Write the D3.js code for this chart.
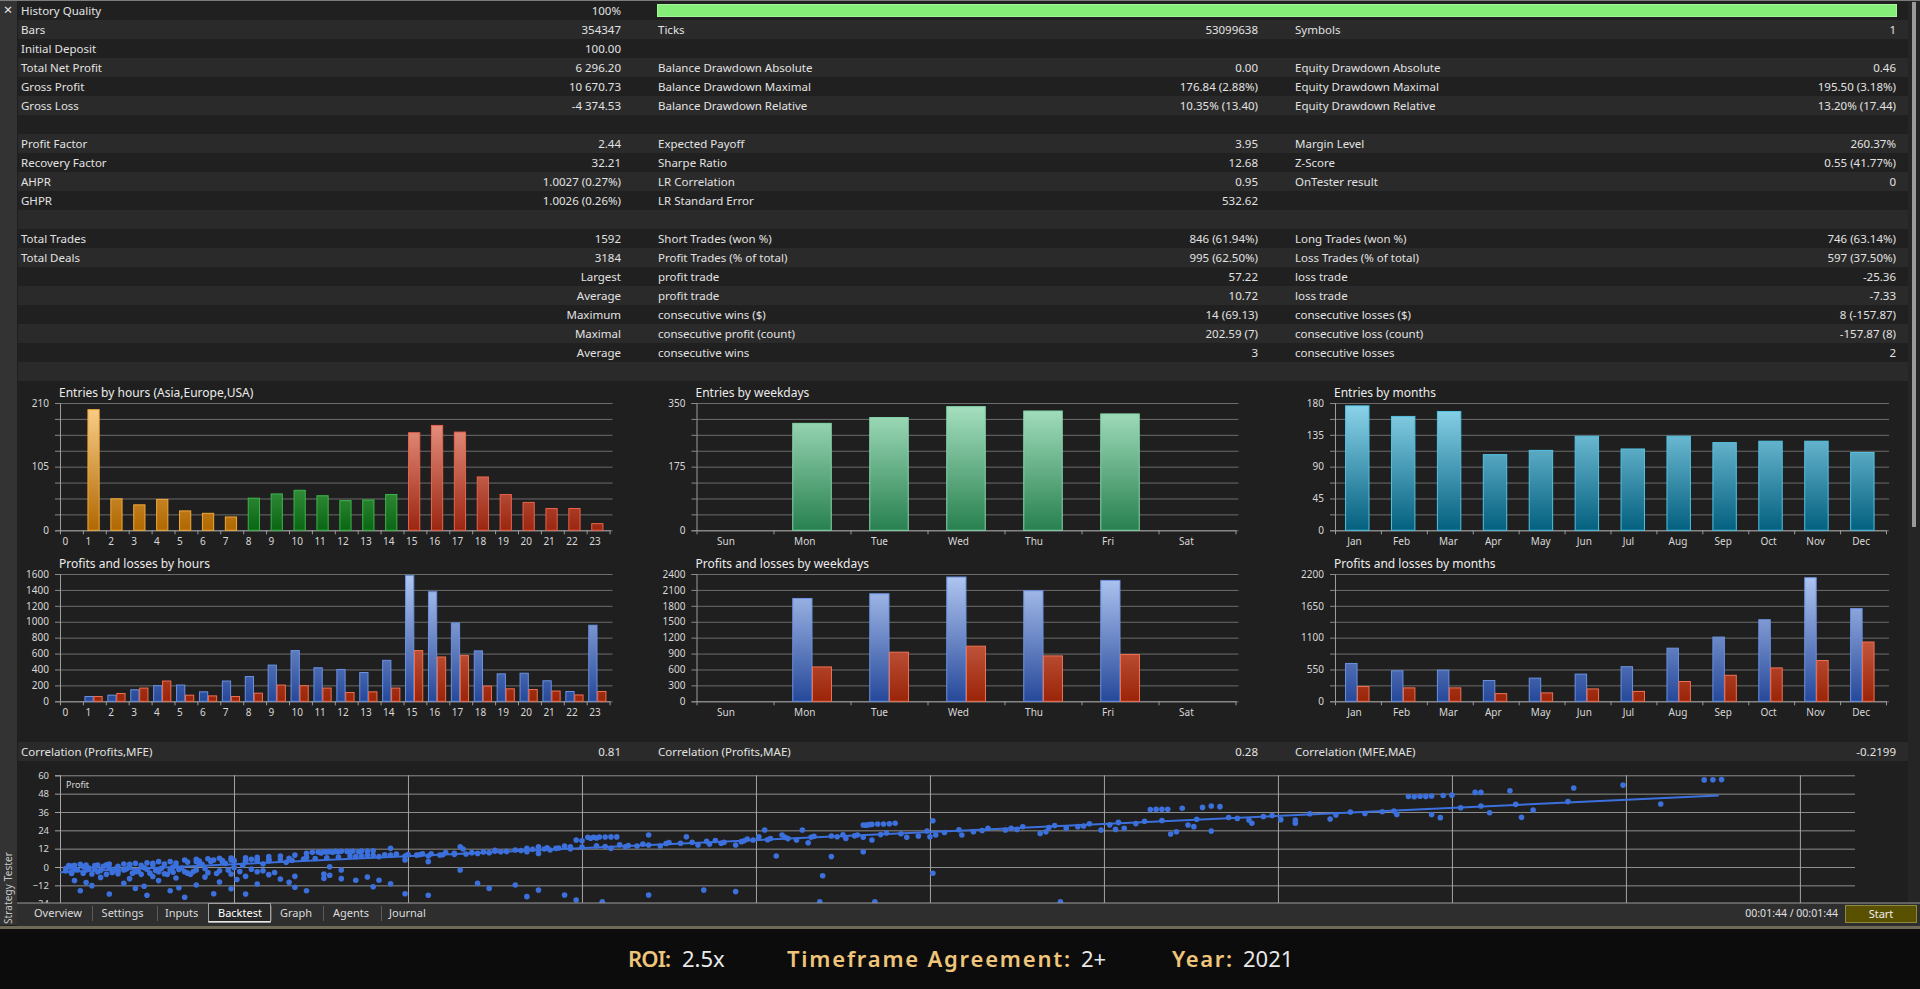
<!DOCTYPE html>
<html>
<head>
<meta charset="utf-8">
<script src="https://cdn.jsdelivr.net/npm/d3@7"></script>
<style>
  body { margin: 0; background: #0c0c0c; overflow: hidden; }
  text { font-family: "Segoe UI", "Noto Sans", "Liberation Sans", sans-serif; }
</style>
</head>
<body>
<script>
// ---------------- report table ----------------
var historyQuality = "100%";
var tableRows = [
  ["History Quality", "100%", "", "", "", ""],
  ["Bars", "354347", "Ticks", "53099638", "Symbols", "1"],
  ["Initial Deposit", "100.00", "", "", "", ""],
  ["Total Net Profit", "6 296.20", "Balance Drawdown Absolute", "0.00", "Equity Drawdown Absolute", "0.46"],
  ["Gross Profit", "10 670.73", "Balance Drawdown Maximal", "176.84 (2.88%)", "Equity Drawdown Maximal", "195.50 (3.18%)"],
  ["Gross Loss", "-4 374.53", "Balance Drawdown Relative", "10.35% (13.40)", "Equity Drawdown Relative", "13.20% (17.44)"],
  ["", "", "", "", "", ""],
  ["Profit Factor", "2.44", "Expected Payoff", "3.95", "Margin Level", "260.37%"],
  ["Recovery Factor", "32.21", "Sharpe Ratio", "12.68", "Z-Score", "0.55 (41.77%)"],
  ["AHPR", "1.0027 (0.27%)", "LR Correlation", "0.95", "OnTester result", "0"],
  ["GHPR", "1.0026 (0.26%)", "LR Standard Error", "532.62", "", ""],
  ["", "", "", "", "", ""],
  ["Total Trades", "1592", "Short Trades (won %)", "846 (61.94%)", "Long Trades (won %)", "746 (63.14%)"],
  ["Total Deals", "3184", "Profit Trades (% of total)", "995 (62.50%)", "Loss Trades (% of total)", "597 (37.50%)"],
  ["", "Largest", "profit trade", "57.22", "loss trade", "-25.36"],
  ["", "Average", "profit trade", "10.72", "loss trade", "-7.33"],
  ["", "Maximum", "consecutive wins ($)", "14 (69.13)", "consecutive losses ($)", "8 (-157.87)"],
  ["", "Maximal", "consecutive profit (count)", "202.59 (7)", "consecutive loss (count)", "-157.87 (8)"],
  ["", "Average", "consecutive wins", "3", "consecutive losses", "2"],
  ["", "", "", "", "", ""]
];
var correlationRow = ["Correlation (Profits,MFE)", "0.81", "Correlation (Profits,MAE)", "0.28", "Correlation (MFE,MAE)", "-0.2199"];

// ---------------- bar charts ----------------
var hourLabels = ["0","1","2","3","4","5","6","7","8","9","10","11","12","13","14","15","16","17","18","19","20","21","22","23"];
var hourSession = ["asia","asia","asia","asia","asia","asia","asia","asia",
                   "europe","europe","europe","europe","europe","europe","europe",
                   "usa","usa","usa","usa","usa","usa","usa","usa","usa"];
var hourEntries = [0,199,52,42,51,32,28,22,53,60,66,57,49,50,59,161,173,162,88,59,46,36,36,11];
var hourProfit  = [0,60,77,145,196,204,119,255,311,455,638,421,400,362,515,1580,1377,985,634,345,353,258,123,956];
var hourLoss    = [0,60,98,166,255,77,68,60,102,204,196,166,111,119,166,638,557,574,191,157,148,129,80,123];

var weekdayLabels  = ["Sun","Mon","Tue","Wed","Thu","Fri","Sat"];
var weekdayEntries = [0,294,310,340,328,320,0];
var weekdayProfit  = [0,1939,2028,2343,2084,2279,0];
var weekdayLoss    = [0,648,926,1039,856,881,0];

var monthLabels  = ["Jan","Feb","Mar","Apr","May","Jun","Jul","Aug","Sep","Oct","Nov","Dec"];
var monthEntries = [176,161,168,107,113,133,115,133,124,126,126,110];
var monthProfit  = [654,527,538,359,400,470,598,918,1110,1410,2136,1602];
var monthLoss    = [255,232,232,133,145,214,171,342,449,577,705,1025];

var hourEntryTicks = [0,105,210];
var weekdayEntryTicks = [0,175,350];
var monthEntryTicks = [0,45,90,135,180];
var hourPLTicks = [0,200,400,600,800,1000,1200,1400,1600];
var weekdayPLTicks = [0,300,600,900,1200,1500,1800,2100,2400];
var monthPLTicks = [0,550,1100,1650,2200];

// ---------------- MFE scatter ----------------
var profitTicks = [-24,-12,0,12,24,36,48,60];
var mfeTicks = [0,6,12,18,24,30,36,42,48,54,60];
var regressionLine = [[0,-3.5],[57.2,46.8]];
var tradePoints = [
  [56.7,57.0],[57.0,57.1],[57.3,57.2],[53.9,53.6],[52.2,51.7],[50.0,49.9],[48.8,48.8],[49.0,48.8],
  [46.5,46.1],[46.9,46.3],[47.3,46.5],[47.7,46.8],[48.0,47.0],[46.7,46.0],[47.1,46.2],
  [55.2,41.2],[50.8,37.3],[50.4,32.5],[49.3,35.5],[49.0,39.9],[47.3,34.4],[47.6,32.3],[46.1,34.4],
  [45.6,36.2],[43.8,31.4],[42.6,30.7],[42.6,28.6],[41.0,30.7],[41.1,28.6],
  [39.7,39.9],[40.0,39.5],[39.4,39.0],[38.7,38.4],[37.6,37.6],[37.8,37.7],[38.0,37.8],[38.2,37.8],
  [38.9,27.5],[39.1,26.4],[39.7,23.5],[38.3,21.6],[38.5,23.1],[36.7,25.3],[36.4,24.6],[35.9,24.2],
  [34.7,25.3],[35.1,26.4],[34.0,23.1],[33.8,22.0],[32.6,24.2],[32.8,25.3],[31.5,23.1],[31.1,20.9],
  [30.0,19.8],[30.2,20.9],[29.2,19.4],[29.6,20.3],
  [27.7,27.5],[27.9,27.7],[28.0,27.9],[28.2,28.1],[28.4,28.1],[28.6,28.3],[28.8,28.6],[27.8,27.4],
  [30.1,30.3],[27.5,20.9],[27.7,19.4],[28.0,17.7],[26.6,20.3],[27.1,18.7],[27.7,10.0],[26.3,-5.7],[30.1,-4.1],
  [25.6,24.2],[24.9,20.9],[24.5,18.7],[25.4,17.7],[25.8,15.9],[24.1,19.8],[23.9,17.7],[23.5,16.6],
  [24.3,24.2],[23.3,14.4],[22.8,15.5],[22.4,15.0],[22.0,14.4],[21.6,19.8],[21.4,15.5],[20.7,13.7],
  [20.3,14.4],[19.9,13.7],[19.5,13.3],[19.0,12.2],
  [18.2,19.4],[18.4,19.5],[18.6,19.6],[18.8,19.6],[19.0,19.7],[19.2,19.7],[18.3,18.8],[18.5,19.0],
  [17.8,17.7],[18.0,17.2],[17.4,13.7],[17.1,12.2],[16.9,11.1],[16.5,13.3],[16.1,12.2],[15.7,11.1],
  [20.3,20.9],[24.7,7.2],[26.6,6.8],[16.5,8.9],[16.1,10.0],
  [15.2,10.0],[14.8,9.4],[14.4,8.9],[14.0,8.5],[13.6,8.3],[13.1,7.8],[13.8,13.3],[13.9,11.8],
  [12.7,7.2],[12.3,7.8],[11.9,7.2],[11.4,7.8],[11.9,4.6],[12.7,3.5],[11.0,6.8],[10.6,7.8],[10.2,6.8],[11.4,12.2],
  [8.9,9.8],[9.1,10.0],[9.3,10.1],[9.5,10.2],[9.7,10.3],[9.9,10.2],[10.1,10.3],[10.4,10.4],[9.0,9.2],[9.4,9.6],
  [8.7,9.6],[9.2,9.9],[9.6,10.0],[10.0,10.1],[10.3,10.0],[10.6,10.5],[10.8,10.6],
  [8.5,8.9],[8.1,7.8],[7.6,7.2],[7.2,6.8],[6.8,6.3],[6.4,6.1],[5.9,5.9],[5.5,5.7],[5.1,5.4],[4.7,5.0],[4.3,4.6],
  [4.7,3.5],[5.3,4.6],[5.9,4.6],[6.6,5.0],[7.2,5.0],[7.9,5.7],[8.5,6.3],
  [4.8,3.9],[5.2,4.0],[5.6,4.2],[6.0,4.2],[6.4,4.4],[6.8,4.5],[7.2,4.6],
  [3.8,3.5],[3.4,3.5],[3.0,2.8],[2.6,2.4],[2.2,2.0],[1.7,2.0],[1.3,1.3],[0.9,1.3],[0.5,1.1],[0.3,0.9],
  [0.3,0.2],[0.5,-0.9],[0.9,-2.0],[1.3,-3.1],[1.7,-0.9],[2.2,-2.0],[2.6,-3.1],[3.0,-1.5],[3.4,-3.1],
  [3.8,-2.0],[4.3,-3.1],[4.7,-2.0],[5.1,-3.7],[5.5,-2.4],[5.9,-4.6],[0.4,-4.2],[1.1,-4.6],[2.0,-4.4],
  [2.8,-4.8],[3.6,-4.4],[4.5,-4.8],[0.7,1.8],[1.5,0.4],[2.4,0.9],[3.2,1.5],[4.0,0.7],[4.9,1.8],[5.7,2.4],
  [6.3,1.1],[7.0,2.0],[7.8,3.1],[0.2,-2.6],[1.9,-1.3],[3.9,0.0],[6.0,-0.4],[6.8,-3.1],
  [0.2,-1.0],[0.6,-1.8],[1.0,-0.6],[1.4,-2.2],[1.8,-3.6],[2.3,-1.2],[2.7,-2.8],[3.1,-4.0],[3.5,-0.8],
  [3.9,-3.4],[4.1,-1.6],[4.6,-3.0],[5.0,-1.0],[5.4,-4.2],[5.8,-2.0],[6.2,-3.0],[6.6,-1.4],[7.0,-2.4],
  [7.4,-3.6],[0.4,-3.2],[0.8,-4.0],[1.2,-1.4],[1.6,-4.8],[2.0,-2.8],[2.5,-4.0],[2.9,-0.4],[3.3,-2.2],
  [3.7,-4.8],[4.2,-0.6],[4.4,-4.0],
  [0.4,0.6],[0.8,0.2],[1.2,0.9],[1.6,1.4],[2.0,0.4],[2.4,1.8],[2.8,1.2],[3.2,2.4],[3.6,1.9],[4.0,2.6],
  [4.4,3.2],[4.8,2.8],[5.2,3.6],[5.6,3.2],[6.0,4.0],[6.4,3.6],[6.8,4.4],[7.2,3.9],[7.6,4.8],[8.0,4.4],
  [8.4,5.2],[8.8,5.6],[9.2,6.0],[9.6,6.6],[10.0,7.2],[10.4,7.0],[10.8,7.6],[11.2,8.0],[11.6,8.4],[12.0,8.2],
  [12.4,8.0],[12.8,8.6],[13.2,8.0],[13.6,9.0],[14.2,9.4],[14.6,9.9],[15.0,10.4],[15.4,10.2],[15.9,10.8],
  [16.3,11.6],[16.7,11.8],[17.2,12.4],[17.6,12.0],[18.0,13.0],[18.8,13.4],[19.6,14.0],[20.1,15.0],[20.9,15.4],
  [21.8,16.2],[22.3,16.8],[22.9,16.2],[23.6,17.2],[24.4,17.8],[25.1,18.6],[25.9,19.4],[26.8,19.8],[27.4,20.4],
  [28.3,21.2],[29.0,21.8],[30.5,22.6],[31.8,23.9],[33.0,24.6],[34.1,25.8],[35.3,26.8],[36.2,27.6],[37.1,28.4],
  [38.0,30.4],[39.2,31.2],[40.6,31.8],[41.5,33.0],[42.1,31.0],[44.0,34.0],[45.0,35.0],[46.0,36.6],[48.3,38.8],
  [50.2,41.0],[52.0,42.8],
  [12.5,8.7],[13.3,9.5],[15.0,11.0],[16.8,12.6],[17.6,13.2],[18.5,13.8],[19.3,14.5],[21.0,16.0],
  [22.6,17.3],[23.7,18.3],[25.0,19.4],[26.0,20.1],[27.0,21.0],[28.5,22.3],[29.9,23.6],[31.0,24.4],
  [32.0,25.4],[33.2,26.3],[34.3,27.2],[35.5,28.3],[36.5,29.2],[37.4,29.9],[40.3,32.4],[41.8,33.7],
  [43.1,34.8],[44.5,36.0],
  [0.5,-8.9],[0.7,-15.5],[1.1,-12.2],[1.7,-17.7],[2.2,-10.7],[2.6,-14.0],[3.0,-18.5],[3.4,-8.9],
  [3.8,-15.5],[4.3,-19.8],[4.7,-11.8],[5.3,-17.5],[5.5,-9.8],[5.9,-14.2],[6.4,-17.7],[6.8,-11.1],
  [7.6,-7.8],[8.1,-13.3],[8.5,-15.5],[9.3,-5.4],[9.7,-7.6],[10.2,-8.7],[10.6,-6.5],[10.8,-12.9],
  [11.0,-8.7],[11.4,-10.9],[11.9,-17.5],[12.7,-18.5],[13.8,-2.0],[14.4,-10.7],[14.8,-14.0],[15.7,-11.8],
  [16.1,-19.4],[16.5,-15.1],[17.4,-18.3],[17.8,-21.6],[18.7,-22.7],[20.3,-18.3],[22.2,-15.1],[23.3,-16.1],
  [26.2,-22.7],[28.1,-22.7],[34.5,-22.7],[9.3,0.2],[9.7,-2.0],[8.1,-6.1],[7.2,-5.0],[6.4,-6.1],
  [9.1,-7.4],[9.1,-4.6],[1.4,-6.8],[2.4,-7.6],[3.2,-6.2],[4.0,-7.2],[5.0,-6.6],[0.9,-10.2],[2.9,-12.6],
  [4.1,-13.6],[6.1,-8.2],[7.9,-10.0]
];

// ---------------- window chrome ----------------
var tabNames = ["Overview","Settings","Inputs","Backtest","Graph","Agents","Journal"];
var activeTab = "Backtest";
var timerText = "00:01:44 / 00:01:44";
var footerItems = [["ROI:", "2.5x"], ["Timeframe Agreement:", "2+"], ["Year:", "2021"]];


var svg = d3.select("body").append("svg")
  .attr("width", 1920)
  .attr("height", 989);
var defs = svg.append("defs");

//background of the tester window
svg.append("rect").attr("width", 1920).attr("height", 989).attr("fill", "#0c0c0c");
svg.append("rect").attr("width", 1920).attr("height", 926).attr("fill", "#1f1f1f");
svg.append("rect").attr("x", 0).attr("y", 0).attr("width", 17).attr("height", 925).attr("fill", "#333333");
svg.append("rect").attr("x", 0).attr("y", 0).attr("width", 1920).attr("height", 1).attr("fill", "#7c7c7c");
svg.append("text").attr("x", 8).attr("y", 15).attr("text-anchor", "middle")
  .attr("font-size", 15).attr("fill", "#e8e8e8").text("\u00d7");

//scroll bar on the right
svg.append("rect").attr("x", 1908).attr("y", 1).attr("width", 12).attr("height", 902).attr("fill", "#252525");
svg.append("rect").attr("x", 1912).attr("y", 2).attr("width", 4).attr("height", 525).attr("fill", "#9a9a9a");

// ---------------- table ----------------
var colLabelX = [21, 658, 1295];
var colValueX = [621, 1258, 1896];
var rowH = 19;

var rows = svg.append("g").selectAll("g").data(tableRows).enter().append("g")
  .attr("transform", function(d, i) { return "translate(0," + (1 + i * rowH) + ")"; });
rows.append("rect")
  .attr("x", 18).attr("width", 1890).attr("height", rowH)
  .attr("fill", function(d, i) { return i % 2 ? "#2a2a2a" : "#202020"; });
[0, 1, 2].forEach(function(c) {
  rows.filter(function(d) { return d[c * 2] !== ""; }).append("text")
    .attr("x", colLabelX[c]).attr("y", 14)
    .attr("font-size", 11.5).attr("fill", "#e2e2e2")
    .text(function(d) { return d[c * 2]; });
  rows.filter(function(d) { return d[c * 2 + 1] !== ""; }).append("text")
    .attr("x", colValueX[c]).attr("y", 14).attr("text-anchor", "end")
    .attr("font-size", 11.5).attr("fill", "#e2e2e2")
    .text(function(d) { return d[c * 2 + 1]; });
});

//history quality bar
var qScale = d3.scaleLinear().domain([0, 100]).range([0, 1239]);
svg.append("rect").attr("x", 657.5).attr("y", 4.5)
  .attr("width", qScale(parseFloat(historyQuality))).attr("height", 12)
  .attr("fill", "#84ee78").attr("stroke", "#a6f59c");

//correlation row
var corr = svg.append("g").attr("transform", "translate(0,742)");
corr.append("rect").attr("x", 18).attr("width", 1890).attr("height", rowH).attr("fill", "#2a2a2a");
[0, 1, 2].forEach(function(c) {
  corr.append("text").attr("x", colLabelX[c]).attr("y", 14).attr("font-size", 11.5)
    .attr("fill", "#e2e2e2").text(correlationRow[c * 2]);
  corr.append("text").attr("x", colValueX[c]).attr("y", 14).attr("text-anchor", "end")
    .attr("font-size", 11.5).attr("fill", "#e2e2e2").text(correlationRow[c * 2 + 1]);
});

// ---------------- gradients ----------------
var plotH = 127.3;
function gradient(id, top, bottom) {
  var g = defs.append("linearGradient").attr("id", id)
    .attr("gradientUnits", "userSpaceOnUse")
    .attr("x1", 0).attr("x2", 0).attr("y1", 0).attr("y2", plotH);
  g.append("stop").attr("offset", 0).attr("stop-color", top);
  g.append("stop").attr("offset", 1).attr("stop-color", bottom);
}
gradient("g-asia", "#fcd28e", "#b06800");
gradient("g-europe", "#86d886", "#0a6614");
gradient("g-usa", "#f4a292", "#9a2610");
gradient("g-week", "#a8e2c2", "#28804f");
gradient("g-month", "#8ed6ec", "#03607f");
gradient("g-profit", "#b2c8f2", "#26489a");
gradient("g-loss", "#eb8f78", "#9a2408");

var sessionStroke = { asia: "#f2a83a", europe: "#3db54a", usa: "#e8644c" };

// ---------------- bar chart ----------------
function barChart(o) {
  var g = svg.append("g").attr("transform", "translate(" + o.x + "," + o.y + ")");
  var n = o.cats.length;
  var x = d3.scaleBand().domain(o.cats).range([0, o.w]);
  var xEdge = d3.scaleLinear().domain([0, n]).range([0, o.w]);
  var y = d3.scaleLinear().domain([0, o.max]).range([plotH, 0]);
  var grid = d3.range(9).map(function(i) { return o.max * i / 8; });

  g.append("g")
    .call(d3.axisLeft(y).tickValues(grid).tickSize(-(o.w + 3)).tickFormat(""))
    .call(function(a) { a.select(".domain").remove(); a.selectAll("text").remove(); })
    .selectAll("line").attr("stroke", "#6c6c6c");

  var yAx = g.append("g")
    .call(d3.axisLeft(y).tickValues(grid).tickSize(5).tickPadding(6)
      .tickFormat(function(d) { return o.ticks.indexOf(d) >= 0 ? d : ""; }));
  yAx.select(".domain").attr("stroke", "#9c9c9c");
  yAx.selectAll("line").attr("stroke", "#8a8a8a");
  yAx.selectAll("text").filter(function() { return this.textContent === ""; }).remove();
  yAx.selectAll("text").attr("font-size", 10).attr("fill", "#d8d8d8")
    .style("font-family", "'Segoe UI','Noto Sans',sans-serif");

  var xAx = g.append("g").attr("transform", "translate(0," + plotH + ")")
    .call(d3.axisBottom(xEdge).tickValues(d3.range(n + 1)).tickSize(4).tickSizeOuter(0).tickFormat(""));
  xAx.selectAll("text").remove();
  xAx.select(".domain").attr("stroke", "#9c9c9c");
  xAx.selectAll("line").attr("stroke", "#9c9c9c");

  g.selectAll(".xl").data(o.cats).enter().append("text")
    .attr("x", function(d) { return x(d) + o.labelDx; })
    .attr("y", plotH + 14.5)
    .attr("font-size", 10).attr("fill", "#d8d8d8")
    .text(function(d) { return d; });

  o.series.forEach(function(s) {
    var bw = x.bandwidth();
    g.selectAll(null).data(s.values.map(function(v, i) { return { v: v, i: i }; })
        .filter(function(d) { return d.v > 0; }))
      .enter().append("rect")
      .attr("x", function(d) { return x(o.cats[d.i]) + s.f0 * bw; })
      .attr("width", (s.f1 - s.f0) * bw)
      .attr("y", function(d) { return y(d.v); })
      .attr("height", function(d) { return plotH - y(d.v); })
      .attr("fill", function(d) { return "url(#" + s.fill(d.i) + ")"; })
      .attr("stroke", function(d) { return s.stroke(d.i); })
      .attr("stroke-width", 1);
  });

  g.append("text").attr("x", -1).attr("y", -6)
    .attr("font-size", 12).attr("fill", "#ececec").text(o.title);
}

var row1 = 403, row2 = 574;
var chartX = [60, 696.5, 1335];

barChart({ x: chartX[0], y: row1, w: 549.6, cats: hourLabels, max: 210, ticks: hourEntryTicks, labelDx: 2.5,
  title: "Entries by hours (Asia,Europe,USA)",
  series: [{ values: hourEntries, f0: 0.22, f1: 0.71,
    fill: function(i) { return "g-" + hourSession[i]; },
    stroke: function(i) { return sessionStroke[hourSession[i]]; } }] });

barChart({ x: chartX[1], y: row1, w: 539, cats: weekdayLabels, max: 350, ticks: weekdayEntryTicks, labelDx: 20.6,
  title: "Entries by weekdays",
  series: [{ values: weekdayEntries, f0: 0.25, f1: 0.75,
    fill: function() { return "g-week"; }, stroke: function() { return "#86d6aa"; } }] });

barChart({ x: chartX[2], y: row1, w: 551, cats: monthLabels, max: 180, ticks: monthEntryTicks, labelDx: 12.2,
  title: "Entries by months",
  series: [{ values: monthEntries, f0: 0.23, f1: 0.74,
    fill: function() { return "g-month"; }, stroke: function() { return "#52c2e2"; } }] });

barChart({ x: chartX[0], y: row2, w: 549.6, cats: hourLabels, max: 1600, ticks: hourPLTicks, labelDx: 2.5,
  title: "Profits and losses by hours",
  series: [
    { values: hourProfit, f0: 0.09, f1: 0.45, fill: function() { return "g-profit"; }, stroke: function() { return "#6a92e2"; } },
    { values: hourLoss, f0: 0.48, f1: 0.84, fill: function() { return "g-loss"; }, stroke: function() { return "#f07052"; } }] });

barChart({ x: chartX[1], y: row2, w: 539, cats: weekdayLabels, max: 2400, ticks: weekdayPLTicks, labelDx: 20.6,
  title: "Profits and losses by weekdays",
  series: [
    { values: weekdayProfit, f0: 0.25, f1: 0.5, fill: function() { return "g-profit"; }, stroke: function() { return "#6a92e2"; } },
    { values: weekdayLoss, f0: 0.506, f1: 0.753, fill: function() { return "g-loss"; }, stroke: function() { return "#f07052"; } }] });

barChart({ x: chartX[2], y: row2, w: 551, cats: monthLabels, max: 2200, ticks: monthPLTicks, labelDx: 12.2,
  title: "Profits and losses by months",
  series: [
    { values: monthProfit, f0: 0.23, f1: 0.48, fill: function() { return "g-profit"; }, stroke: function() { return "#6a92e2"; } },
    { values: monthLoss, f0: 0.49, f1: 0.74, fill: function() { return "g-loss"; }, stroke: function() { return "#f07052"; } }] });

// ---------------- scatter (Profits vs MFE) ----------------
var xS = d3.scaleLinear().domain([0, 61.9]).range([60, 1855]);
var yS = d3.scaleLinear().domain([-24, 60]).range([903.7, 775.3]);

defs.append("clipPath").attr("id", "clip-scatter")
  .append("rect").attr("x", 60).attr("y", 770).attr("width", 1800).attr("height", 133);

var sg = svg.append("g");
sg.append("g").attr("transform", "translate(60,0)")
  .call(d3.axisLeft(yS).tickValues(profitTicks).tickSize(-1795).tickFormat(""))
  .call(function(a) { a.select(".domain").remove(); a.selectAll("text").remove(); })
  .selectAll("line").attr("stroke", "#8e8e8e");
sg.append("g").attr("transform", "translate(0,903.7)")
  .call(d3.axisBottom(xS).tickValues(mfeTicks).tickSize(-(903.7 - 775.3)).tickFormat(""))
  .call(function(a) { a.select(".domain").remove(); a.selectAll("text").remove(); })
  .selectAll("line").attr("stroke", "#a4a4a4");
var sy = sg.append("g").attr("transform", "translate(60,0)")
  .call(d3.axisLeft(yS).tickValues(profitTicks).tickSize(5).tickPadding(6).tickFormat(d3.format("d")));
sy.select(".domain").attr("stroke", "#a4a4a4");
sy.selectAll("line").attr("stroke", "#a4a4a4");
sy.selectAll("text").attr("font-size", 9.5).attr("fill", "#d8d8d8")
  .style("font-family", "'Segoe UI','Noto Sans',sans-serif");

sg.append("text").attr("x", 66).attr("y", 788).attr("font-size", 9).attr("fill", "#dcdcdc").text("Profit");

var pts = sg.append("g").attr("clip-path", "url(#clip-scatter)");
pts.selectAll("circle").data(tradePoints).enter().append("circle")
  .attr("cx", function(d) { return xS(d[0]); })
  .attr("cy", function(d) { return yS(d[1]); })
  .attr("r", 2.8)
  .attr("fill", "#3c70dc");
pts.append("path").datum(regressionLine)
  .attr("d", d3.line().x(function(d) { return xS(d[0]); }).y(function(d) { return yS(d[1]); }))
  .attr("stroke", "#3c70dc").attr("stroke-width", 2).attr("fill", "none");

// ---------------- tab bar ----------------
var tabX = [34, 101.6, 165, 218, 280, 333, 389];
var sepX = [92, 157, 271, 323, 381];
svg.append("rect").attr("x", 17).attr("y", 903).attr("width", 1903).attr("height", 23).attr("fill", "#2e2e2e");
svg.append("rect").attr("x", 17).attr("y", 902.5).attr("width", 1903).attr("height", 1).attr("fill", "#9a9a9a");
svg.append("rect").attr("x", 208.5).attr("y", 903.5).attr("width", 62).attr("height", 18.5)
  .attr("fill", "#262626").attr("stroke", "#a0a0a0");
svg.append("rect").attr("x", 208.5).attr("y", 921).attr("width", 62).attr("height", 1.5).attr("fill", "#e8e8e8");
svg.selectAll(".sep").data(sepX).enter().append("rect")
  .attr("x", function(d) { return d; }).attr("y", 906).attr("width", 1).attr("height", 15).attr("fill", "#5a5a5a");
svg.selectAll(".tab").data(tabNames).enter().append("text")
  .attr("x", function(d, i) { return tabX[i]; }).attr("y", 917)
  .attr("font-size", 11).attr("fill", function(d) { return d === activeTab ? "#ffffff" : "#dcdcdc"; })
  .text(function(d) { return d; });

svg.append("text").attr("x", 1838).attr("y", 917).attr("text-anchor", "end")
  .attr("font-size", 10.5).attr("fill", "#e0e0e0").text(timerText);
svg.append("rect").attr("x", 1845.5).attr("y", 905.5).attr("width", 71).attr("height", 17)
  .attr("fill", "#5a5100").attr("stroke", "#8f8a3a");
svg.append("text").attr("x", 1881).attr("y", 918).attr("text-anchor", "middle")
  .attr("font-size", 11).attr("fill", "#f0f0f0").text("Start");

svg.append("text").attr("transform", "translate(12,888) rotate(-90)").attr("text-anchor", "middle")
  .attr("font-size", 10).attr("textLength", 72).attr("lengthAdjust", "spacing")
  .attr("fill", "#c8c8c8").text("Strategy Tester");

svg.append("rect").attr("x", 0).attr("y", 926).attr("width", 1920).attr("height", 3).attr("fill", "#6f6a58");

// ---------------- footer ----------------
var footerLabelX = [628, 787, 1172];
var footerLabelW = [43, 283, 60];
footerItems.forEach(function(f, i) {
  svg.append("text").attr("x", footerLabelX[i]).attr("y", 967)
    .attr("font-size", 22).attr("font-weight", 600).attr("fill", "#eec57a")
    .attr("textLength", footerLabelW[i]).attr("lengthAdjust", "spacing").text(f[0]);
  svg.append("text").attr("x", footerLabelX[i] + footerLabelW[i] + 11).attr("y", 967)
    .attr("font-size", 22).attr("fill", "#e8e8e8").text(f[1]);
});
</script>
</body>
</html>
